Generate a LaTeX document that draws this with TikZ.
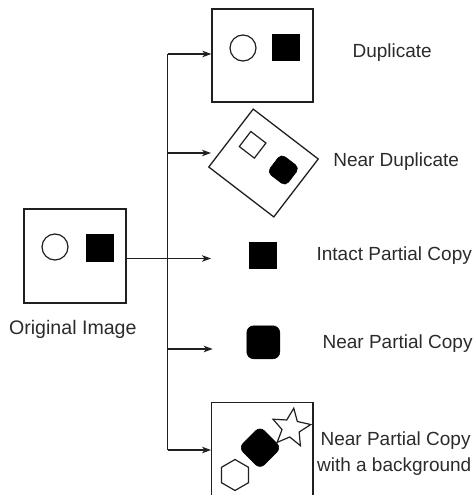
\documentclass[tikz,border=0pt]{standalone}
\usepackage{fontspec}
\setmainfont{Liberation Sans}
\usetikzlibrary{arrows.meta,shapes.geometric}
\definecolor{ink}{HTML}{231F20}
\definecolor{txt}{HTML}{2B2B2B}
\begin{document}
\begin{tikzpicture}[x=1pt,y=-1pt,
  line width=1.2pt,
  imgbox/.style={draw=ink,line width=1.3pt,fill=white,inner sep=0pt},
  blk/.style={fill=black,draw=black,line width=0.6pt,inner sep=0pt,minimum size=#1},
  hol/.style={draw=ink,fill=white,line width=1.2pt,inner sep=0pt},
  lbl/.style={text=txt,anchor=base west,inner sep=0pt,font=\fontsize{19}{23}\selectfont},
  arr/.style={draw=ink,line width=1.2pt,-{Stealth[length=9pt,width=6.5pt,inset=2.5pt]}},
  conn/.style={draw=ink,line width=1.2pt}]
\useasboundingbox (0,0) rectangle (473,495);
\clip (0,0) rectangle (473,495);

% original image
\node[imgbox,minimum width=102pt,minimum height=94pt] (orig) at (75,256) {};
\node[hol,circle,minimum size=26pt] (oc) at (55,247) {};
\node[blk=27pt] (os) at (99.5,247.5) {};
\node[lbl,font=\fontsize{19.6}{23}\selectfont] (olbl) at (8.5,334) {Original Image};

% duplicate
\node[imgbox,minimum width=101pt,minimum height=93pt] (dup) at (262.5,55.5) {};
\node[hol,circle,minimum size=26pt] (dc) at (243,48) {};
\node[blk=26.5pt] (ds) at (286,47.5) {};
\node[lbl] (dlbl) at (352,57) {Duplicate};

% near duplicate
\node[imgbox,minimum width=82pt,minimum height=73pt,rotate=-37.5] (ndup) at (263.5,163) {};
\node[hol,minimum size=19pt,rotate=-37.5] (nds) at (252.6,144.8) {};
\node[blk=23pt,rounded corners=5pt,rotate=-37.5] (ndr) at (283.3,170) {};
\node[lbl] (ndlbl) at (332.7,166) {Near Duplicate};

% intact partial copy
\node[blk=26.5pt] (ips) at (263,255.5) {};
\node[lbl] (iplbl) at (316,260) {Intact Partial Copy};

% near partial copy
\node[blk=33pt,rounded corners=7pt] (npr) at (263.3,342.3) {};
\node[lbl] (nplbl) at (322,348) {Near Partial Copy};

% near partial copy with background
\node[imgbox,minimum width=101.3pt,minimum height=110pt] (bg) at (262.35,457.7) {};
\node[blk=30pt,rounded corners=6pt,rotate=45] (bgr) at (260,447.7) {};
\node[hol,star,star points=5,star point ratio=2.2,minimum size=40pt,rotate=-8] (bgst) at (291,428) {};
\node[hol,regular polygon,regular polygon sides=6,minimum size=31pt,rotate=30] (bghx) at (235,475) {};
\node[lbl] (bglbl1) at (320,445) {Near Partial Copy};
\node[lbl] (bglbl2) at (316.5,471.5) {with a background};

% connectors
\coordinate (vtop) at (167.5,54);
\coordinate (vbot) at (167.5,450);
\coordinate (a2) at (211,153);
\coordinate (a3) at (211,258.5);
\coordinate (a4) at (212.7,349);
\draw[conn] (vtop) -- (vbot);
\draw[arr] (orig.east |- a3) -- (a3);
\draw[arr] (vtop) -- (vtop -| dup.west);
\draw[arr] (vtop |- a2) -- (a2);
\draw[arr] (vtop |- a4) -- (a4);
\draw[arr] (vbot) -- (vbot -| bg.west);
\end{tikzpicture}
\end{document}
